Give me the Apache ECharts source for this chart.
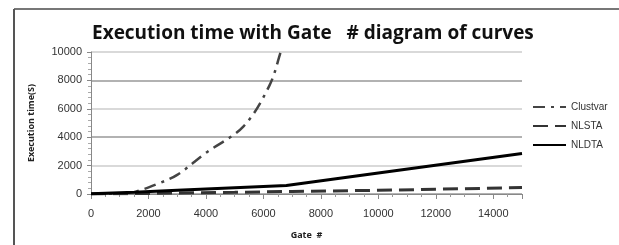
<!DOCTYPE html>
<html>
<head>
<meta charset="utf-8">
<script src="https://cdn.jsdelivr.net/npm/echarts@6/dist/echarts.min.js"></script>
<style>
  html, body { margin: 0; padding: 0; background: #fff; }
  #chart { width: 619px; height: 245px; }
</style>
</head>
<body>
<div id="chart"></div>
<script>
// gate counts / execution time (s)
const clustvarGates = [0, 1000, 1600, 2300, 3000, 4000, 5300, 6200, 6600, 6800];
const clustvarTime  = [0, 30, 200, 700, 1350, 2900, 4750, 7600, 10000, 11500];
const nlstaGates = [0, 2000, 5000, 7000, 10000, 15000];
const nlstaTime  = [0, 40, 120, 180, 260, 450];
const nldtaGates = [0, 1500, 3000, 5000, 6800, 10000, 15000];
const nldtaTime  = [20, 120, 260, 440, 600, 1480, 2850];

const xTicks = [0, 2000, 4000, 6000, 8000, 10000, 12000, 14000];
const yTicks = [0, 2000, 4000, 6000, 8000, 10000];

function pairs(xs, ys) {
    return xs.map((x, i) => [x, ys[i]]);
}

var myChart = echarts.init(document.getElementById('chart'));

var options = {
    animation: false,
    title: {
        text: 'Execution time with Gate   # diagram of curves',
        left: 87,
        top: 19,
        textStyle: {
            fontFamily: 'Open Sans',
            fontWeight: 'bold',
            fontSize: 19,
            color: '#111'
        }
    },
    legend: {
        orient: 'vertical',
        left: 527,
        top: 97,
        itemWidth: 33,
        itemHeight: 10,
        itemGap: 9,
        itemStyle: { opacity: 0 },
        textStyle: {
            fontFamily: 'Liberation Sans Narrow, Liberation Sans',
            fontSize: 10,
            color: '#333'
        },
        data: ['Clustvar', 'NLSTA', 'NLDTA']
    },
    grid: {
        left: 91,
        right: 97,
        top: 52,
        bottom: 48
    },
    xAxis: {
        type: 'value',
        min: 0,
        max: 15000,
        interval: 2000,
        name: 'Gate  #',
        nameLocation: 'middle',
        nameGap: 37,
        nameTextStyle: {
            fontFamily: 'Noto Sans',
            fontWeight: 'bold',
            fontSize: 9,
            color: '#222'
        },
        axisLine: { lineStyle: { color: '#888', width: 1 } },
        axisTick: { show: true, length: 5, lineStyle: { color: '#888' } },
        minorTick: { show: true, splitNumber: 4, length: 3, lineStyle: { color: '#999' } },
        splitLine: { show: false },
        axisLabel: {
            showMaxLabel: false,
            margin: 14,
            fontFamily: 'Liberation Sans Narrow, Liberation Sans',
            fontSize: 11,
            color: '#333',
            formatter: v => xTicks.includes(v) ? String(v) : ''
        }
    },
    yAxis: {
        type: 'value',
        min: 0,
        max: 10000,
        interval: 2000,
        name: 'Execution time(S)',
        nameLocation: 'middle',
        nameGap: 55,
        nameTextStyle: {
            fontFamily: 'Noto Sans',
            fontWeight: 'bold',
            fontSize: 9,
            color: '#222'
        },
        axisLine: { show: true, lineStyle: { color: '#888', width: 1 } },
        axisTick: { show: true, length: 4, lineStyle: { color: '#888' } },
        minorTick: { show: true, splitNumber: 5, length: 3, lineStyle: { color: '#aaa' } },
        splitLine: {
            show: true,
            lineStyle: { color: ['#999', '#ccc'], width: 1.5 }
        },
        axisLabel: {
            margin: 9,
            fontFamily: 'Liberation Sans Narrow, Liberation Sans',
            fontSize: 11,
            color: '#333',
            formatter: v => yTicks.includes(v) ? String(v) : ''
        }
    },
    series: [
        {
            name: 'Clustvar',
            type: 'line',
            smooth: 0.35,
            symbol: 'none',
            clip: true,
            data: pairs(clustvarGates, clustvarTime),
            lineStyle: { color: '#444', width: 2.5, type: [12, 6, 3, 6] },
            itemStyle: { color: '#444' }
        },
        {
            name: 'NLSTA',
            type: 'line',
            symbol: 'none',
            data: pairs(nlstaGates, nlstaTime),
            lineStyle: { color: '#333', width: 3, type: [15, 7] },
            itemStyle: { color: '#333' }
        },
        {
            name: 'NLDTA',
            type: 'line',
            symbol: 'none',
            data: pairs(nldtaGates, nldtaTime),
            lineStyle: { color: '#000', width: 3 },
            itemStyle: { color: '#000' }
        }
    ],
    graphic: [
        // frame around the chart
        { type: 'line', shape: { x1: 14, y1: 9, x2: 619, y2: 9 }, style: { stroke: '#777', lineWidth: 2 } },
        { type: 'line', shape: { x1: 14, y1: 9, x2: 14, y2: 245 }, style: { stroke: '#555', lineWidth: 2 } }
    ]
};

myChart.setOption(options);
</script>
</body>
</html>
